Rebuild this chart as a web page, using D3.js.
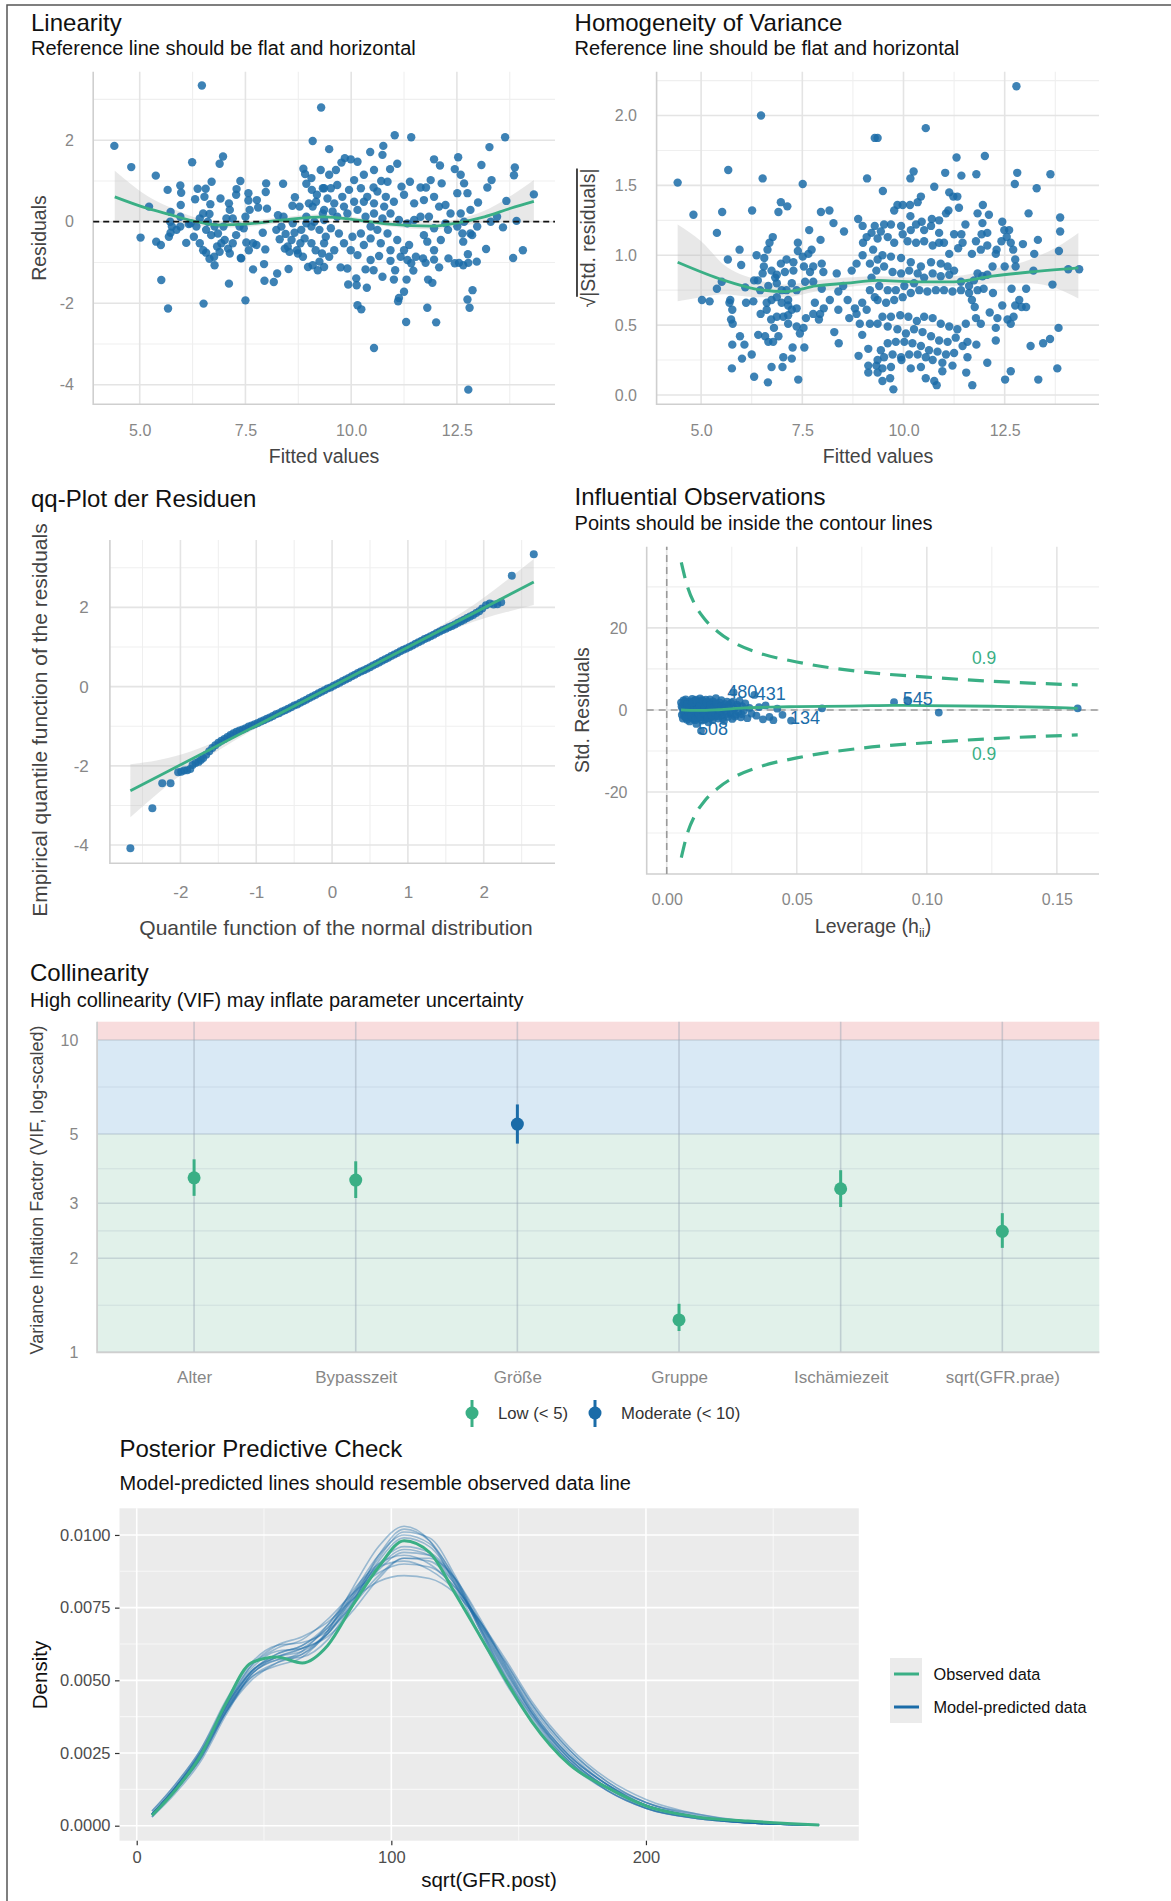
<!DOCTYPE html>
<html>
<head>
<meta charset="utf-8">
<script src="https://cdn.jsdelivr.net/npm/d3@7"></script>
<style>
  body { margin: 0; background: #fff; }
  svg { display: block; font-family: "Liberation Sans", Arial, Helvetica, sans-serif; }
</style>
</head>
<body>
<svg id="chart" width="1171" height="1901"></svg>
<script>
// ---------- data ----------

// Linearity: fitted value, residual
var linearityPoints = [
  [6.47,3.34],[4.40,1.86],[4.80,1.34],[5.38,1.13],[6.24,1.46],[6.97,1.60],[6.89,1.42],[5.02,-0.39],[5.39,-0.49],[5.50,-0.57],
  [5.51,-1.43],[5.67,-2.13],[6.51,-2.01],[7.11,-1.52],[7.50,-1.93],[7.95,-1.45],[8.17,-1.48],[8.25,-1.27],[8.52,-1.16],[7.68,-1.17],
  [7.94,-1.04],[7.39,-0.89],[6.77,-1.07],[6.65,-0.91],[5.22,0.37],[5.66,0.78],[5.96,0.89],[5.98,0.71],[5.97,0.41],[5.73,0.24],
  [6.31,0.55],[6.37,0.81],[6.56,0.81],[6.70,0.98],[6.53,0.61],[6.91,0.57],[6.67,0.43],[6.65,0.19],[7.11,0.45],[7.28,0.66],
  [7.29,0.80],[7.38,1.00],[7.57,0.70],[7.77,0.53],[7.99,0.94],[7.98,0.73],[8.01,0.32],[7.80,0.35],[7.57,0.52],[8.39,0.93],
  [8.67,0.60],[8.61,0.39],[8.27,0.16],[8.40,0.12],[8.87,1.30],[8.91,1.17],[9.06,1.07],[9.09,1.98],[9.29,2.80],[8.94,0.93],
  [9.07,0.78],[9.19,0.66],[9.28,1.27],[9.33,0.82],[5.76,-0.12],[5.73,-0.27],[5.69,-0.37],[6.10,-0.52],[5.96,-0.12],[6.16,-0.06],
  [6.28,-0.37],[6.42,-0.53],[6.50,-0.70],[6.57,-0.76],[6.76,-0.86],[6.83,-0.61],[6.89,-0.74],[6.93,-0.53],[7.01,-0.45],[7.09,-0.66],
  [7.13,-0.78],[7.20,-0.53],[7.28,-0.33],[7.36,-0.12],[7.40,-0.90],[7.46,-0.16],[7.52,-0.51],[7.58,-0.70],[7.68,-0.53],[7.76,-0.57],
  [7.91,-0.27],[7.97,-0.68],[8.31,-0.43],[8.45,-0.30],[8.50,-0.61],[8.59,-0.45],[8.66,-0.27],[8.72,-0.70],[8.80,-0.53],[8.90,-0.41],
  [8.98,-1.11],[9.09,-1.07],[9.21,-1.19],[9.31,-0.78],[9.36,-0.53],[9.25,-0.98],[6.57,-0.20],[6.69,-0.33],[6.77,-0.12],[6.85,-0.29],
  [6.98,-0.12],[7.05,0.08],[7.13,0.29],[7.20,0.08],[7.50,0.12],[7.60,0.29],[6.61,0.00],[6.34,-0.12],[6.42,0.08],[6.50,0.20],
  [6.20,-0.04],[5.96,0.12],[5.87,-0.20],[5.72,0.00],[8.23,-0.20],[8.35,-0.12],[8.62,-0.04],[8.82,-0.20],[8.94,0.12],[9.09,0.37],
  [9.17,0.49],[9.06,-0.12],[9.13,0.00],[9.25,-0.20],[9.33,0.20],[9.00,0.45],[8.78,0.37],[8.94,-0.04],[9.16,-0.70],[9.06,-0.53],
  [8.86,-0.86],[8.74,-0.78],[8.54,-0.74],[8.43,-0.66],
  [11.03,2.12],[11.42,2.07],[13.64,2.07],[13.27,1.83],[9.48,1.78],[10.45,1.71],[10.76,1.86],[10.74,1.64],[11.96,1.53],[12.10,1.38],
  [12.53,1.58],[12.45,1.29],[12.59,1.15],[13.08,1.39],[13.87,1.33],[13.85,1.14],[13.32,1.02],[13.22,0.84],[13.67,0.51],[14.32,0.67],
  [13.91,0.02],[13.59,-0.14],[13.83,-0.89],[14.06,-0.70],[13.19,-0.67],[12.97,-0.98],[12.76,-0.80],[12.65,-0.49],[12.86,-0.33],[13.00,0.47],
  [12.75,0.70],[12.67,0.94],[12.51,0.70],[12.14,0.94],[11.88,1.02],[11.77,0.84],[11.64,0.84],[11.39,0.98],[11.19,0.86],[11.09,1.42],
  [10.92,1.29],[10.86,0.98],[10.71,1.00],[10.54,1.27],[10.53,0.84],[10.30,1.15],[10.15,1.47],[9.99,1.53],[9.85,1.56],[9.77,1.45],
  [9.64,1.27],[9.48,1.15],[9.52,0.82],[9.67,0.90],[9.36,0.82],[9.44,0.57],[9.60,0.45],[9.79,0.61],[9.95,0.78],[10.07,1.02],
  [10.23,0.82],[10.38,0.61],[10.62,0.74],[10.82,0.61],[11.01,0.49],[11.25,0.66],[11.49,0.45],[11.72,0.53],[11.96,0.61],[12.08,0.37],
  [12.23,0.41],[12.35,0.20],[12.59,0.20],[12.82,0.29],[12.67,0.00],[12.23,-0.04],[11.96,-0.16],[11.72,-0.33],[11.80,-0.49],[11.96,-0.70],
  [12.12,-0.45],[12.29,-0.20],[12.51,-0.12],[12.63,-0.29],[12.82,-0.29],[12.98,-0.12],[13.30,0.00],[13.45,0.12],[11.70,-0.90],[11.76,-1.01],
  [11.96,-0.93],[12.08,-1.12],[12.30,-0.90],[12.45,-1.02],[12.55,-1.01],[12.65,-1.07],[12.77,-1.01],[11.82,-1.42],[11.92,-1.50],[11.31,-1.42],
  [11.25,-1.72],[11.13,-1.87],[11.11,-1.95],[11.30,-2.46],[11.80,-2.11],[12.01,-2.47],[12.75,-1.91],[12.87,-1.68],[12.80,-2.11],[12.77,-4.12],
  [10.54,-3.10],[10.15,-2.05],[10.24,-2.15],[9.93,-1.54],[10.12,-1.39],[10.13,-1.56],[10.37,-1.62],[10.53,-1.19],[10.74,-1.35],[11.01,-1.42],
  [11.04,-1.19],[11.47,-1.20],[11.42,-1.02],[10.93,-0.96],[10.66,-0.84],[10.46,-0.94],[10.34,-1.17],[9.75,-1.12],[9.91,-1.15],[9.36,-1.11],
  [9.48,-0.86],[9.60,-0.70],[9.83,-0.53],[9.99,-0.70],[10.15,-0.82],[10.30,-0.57],[10.46,-0.41],[10.70,-0.53],[10.86,-0.29],[11.09,-0.45],
  [11.25,-0.70],[11.37,-0.57],[11.53,-0.86],[11.33,-0.94],[11.17,-0.86],[10.93,-0.70],[10.62,-0.20],[10.46,-0.12],[10.23,-0.29],[10.03,-0.37],
  [9.71,-0.29],[9.52,-0.16],[9.40,-0.37],[9.36,0.04],[9.67,0.12],[9.91,0.20],[10.15,0.29],[10.34,0.12],[10.54,0.20],[10.74,0.08],
  [10.93,0.20],[11.13,0.04],[11.33,-0.04],[11.49,0.04],[11.64,0.12],[11.84,0.12],[10.78,0.37],[10.54,0.45],[10.30,0.49],[10.07,0.49],
  [9.83,0.37],[9.56,0.25],[9.36,0.29]
];
var linearitySmooth = [[4.41,0.61],[5.2,0.32],[5.7,0.18],[6.26,0.02],[6.9,-0.08],[7.5,-0.06],[8.3,0.03],[9.35,0.12],[10.15,0.04],
  [10.9,-0.06],[11.9,-0.11],[12.5,-0.03],[13.15,0.12],[13.77,0.33],[14.32,0.5]];
var linearityBand = [[4.41,-0.02,1.25],[5.2,0.02,0.62],[5.7,0.0,0.36],[6.26,-0.08,0.12],[6.9,-0.15,-0.01],[7.5,-0.13,0.01],
  [8.3,-0.04,0.10],[9.35,0.06,0.18],[10.15,-0.02,0.10],[10.9,-0.12,0.0],[11.9,-0.19,-0.03],[12.5,-0.12,0.06],[13.15,-0.02,0.27],
  [13.77,0.02,0.63],[14.32,0.0,1.02]];

// Homogeneity of variance: fitted value, sqrt(|std. residual|)
var homogeneityPoints = [
  [6.48,2.00],[9.29,1.84],[4.42,1.52],[5.67,1.61],[6.52,1.55],[7.51,1.51],[9.10,1.55],[4.81,1.29],[5.52,1.31],[6.26,1.32],
  [6.91,1.31],[6.97,1.38],[7.13,1.35],[7.96,1.31],[8.17,1.32],[8.27,1.23],[8.53,1.17],[7.67,1.18],[7.39,1.09],[7.39,1.03],
  [6.77,1.13],[6.69,1.09],[6.64,1.04],[5.95,1.04],[5.39,1.16],[5.66,0.97],[5.99,0.93],[6.37,1.00],[6.56,0.98],[6.55,0.92],
  [6.52,0.87],[6.40,0.82],[6.31,0.82],[6.09,0.77],[5.39,0.76],[5.02,0.68],[5.21,0.67],[5.70,0.66],[5.77,0.61],[5.74,0.54],
  [5.78,0.51],[5.96,0.42],[5.77,0.36],[6.07,0.36],[6.01,0.26],[5.76,0.19],[6.25,0.29],[6.31,0.13],[6.65,0.09],[6.74,0.20],
  [7.01,0.20],[7.24,0.26],[7.03,0.27],[7.26,0.34],[7.40,0.11],[7.55,0.34],[7.53,0.48],[7.36,0.49],[7.15,0.51],[6.80,0.48],
  [6.91,0.42],[6.78,0.38],[6.66,0.38],[6.58,0.42],[6.41,0.43],[6.47,0.58],[6.62,0.61],[6.62,0.66],[6.74,0.68],[6.87,0.70],
  [6.99,0.66],[7.15,0.64],[7.24,0.61],[7.36,0.62],[7.15,0.57],[7.03,0.56],[6.87,0.56],[6.73,0.54],[6.29,0.67],[6.46,0.75],
  [6.66,0.78],[6.87,0.80],[6.83,0.84],[7.07,0.88],[7.28,0.89],[7.24,0.80],[7.36,0.75],[7.54,0.92],[7.69,0.88],[7.77,0.81],
  [7.57,0.81],[7.81,0.66],[7.94,0.58],[7.91,0.54],[8.03,0.62],[8.29,0.45],[8.40,0.37],[8.89,0.28],[9.13,0.33],[9.13,0.21],
  [9.13,0.16],[9.33,0.21],[8.98,0.43],[8.92,0.51],[8.84,0.58],[8.80,0.62],[8.66,0.55],[8.62,0.68],[8.39,0.74],[8.51,0.78],
  [8.72,0.89],[8.84,0.94],[8.99,1.00],[9.00,1.09],[9.09,1.13],[9.21,1.16],[8.88,1.26],[8.99,1.21],[9.29,1.21],[9.25,1.04],
  [9.17,0.94],[9.33,0.89],[9.21,0.84],[9.17,0.75],[9.29,0.70],[8.98,0.66],[9.09,0.61],[9.17,0.51],[8.39,0.61],[8.18,0.68],
  [8.35,0.87],[8.02,0.88],[7.98,0.94],[7.95,1.11],[7.73,1.04],[7.65,1.01],[7.77,0.92],[7.98,0.76],[7.77,0.58],[7.59,0.55],
  [7.44,0.44],[7.11,0.75],[7.15,0.68],[6.99,0.75],[6.97,0.94],[7.11,0.97],[7.28,0.95],[7.51,0.99],[6.74,0.89],[6.87,0.86],
  [5.72,0.68],[6.11,0.66],[5.51,0.81],
  [12.79,2.21],[10.55,1.91],[9.36,1.84],[11.31,1.70],[12.01,1.71],[10.17,1.55],[10.25,1.60],[11.03,1.59],[11.43,1.57],[11.80,1.58],
  [12.81,1.59],[13.63,1.58],[12.75,1.51],[13.29,1.48],[9.49,1.46],[10.76,1.49],[11.13,1.45],[11.23,1.42],[11.33,1.42],[10.43,1.42],
  [10.35,1.38],[9.85,1.36],[9.98,1.36],[10.16,1.36],[9.77,1.32],[10.17,1.28],[10.45,1.24],[10.70,1.26],[10.88,1.25],[11.05,1.30],
  [11.11,1.32],[11.37,1.34],[11.96,1.36],[11.83,1.30],[12.11,1.29],[11.53,1.22],[11.25,1.15],[11.43,1.15],[11.46,1.09],[11.35,1.05],
  [11.13,1.01],[11.00,1.09],[10.88,1.16],[10.68,1.21],[10.51,1.18],[10.31,1.22],[10.18,1.18],[9.94,1.21],[9.69,1.22],[9.52,1.22],
  [9.44,1.17],[9.36,1.12],[9.61,1.13],[9.77,1.09],[9.98,1.15],[10.10,1.10],[10.31,1.09],[10.51,1.10],[10.72,1.07],[10.88,1.09],
  [12.44,1.24],[12.49,1.18],[12.61,1.18],[12.55,1.13],[12.42,1.10],[12.65,1.09],[12.71,1.04],[12.95,1.08],[13.32,1.11],[13.87,1.27],
  [13.87,1.17],[13.23,1.01],[13.84,1.03],[12.76,0.97],[12.77,0.92],[12.50,0.92],[12.30,1.04],[12.07,1.07],[11.91,1.04],[11.79,1.10],
  [11.69,1.01],[11.93,1.15],[12.07,1.16],[11.95,1.23],[12.28,1.01],[12.20,0.92],[12.07,0.86],[11.95,0.85],[11.83,0.87],[11.74,0.82],
  [11.62,0.78],[11.42,0.81],[11.25,0.89],[11.09,0.92],[10.92,0.94],[10.68,0.95],[10.43,0.92],[10.18,0.95],[9.94,0.98],[9.69,0.99],
  [9.48,1.00],[9.36,0.97],[9.52,0.92],[9.73,0.88],[9.94,0.87],[10.14,0.89],[10.35,0.87],[10.51,0.84],[10.72,0.87],[10.92,0.85],
  [11.13,0.86],[10.26,0.80],[10.02,0.78],[9.81,0.75],[9.61,0.75],[9.40,0.78],[9.36,0.68],[9.57,0.66],[9.77,0.68],[9.98,0.70],
  [10.18,0.73],[10.39,0.75],[10.59,0.74],[10.80,0.75],[11.00,0.75],[11.21,0.74],[11.42,0.75],[11.62,0.73],[11.83,0.75],[11.98,0.76],
  [12.21,0.73],[12.67,0.76],[13.03,0.76],[13.68,0.79],[14.07,0.90],[14.34,0.90],[13.21,0.89],[11.69,0.68],[11.76,0.63],[11.79,0.55],
  [11.91,0.51],[12.13,0.59],[12.28,0.48],[12.32,0.55],[12.44,0.64],[12.57,0.54],[12.65,0.51],[12.72,0.56],[12.76,0.64],[12.86,0.68],
  [12.92,0.63],[13.03,0.63],[13.83,0.48],[13.62,0.40],[13.45,0.37],[13.14,0.35],[13.80,0.19],[13.33,0.11],[12.65,0.17],[12.51,0.11],
  [12.28,0.39],[12.07,0.23],[11.80,0.36],[11.58,0.38],[11.58,0.27],[11.55,0.16],[11.70,0.07],[11.54,0.51],[11.33,0.47],[11.13,0.49],
  [10.92,0.51],[10.72,0.55],[10.51,0.56],[10.33,0.53],[10.12,0.56],[9.92,0.57],[9.69,0.56],[9.48,0.56],[9.36,0.51],[9.61,0.49],
  [9.85,0.47],[10.06,0.44],[10.26,0.47],[10.47,0.45],[10.68,0.42],[10.88,0.39],[11.09,0.38],[11.29,0.41],[11.46,0.35],[11.25,0.30],
  [11.05,0.29],[10.84,0.31],[10.63,0.32],[10.43,0.35],[10.22,0.37],[10.02,0.38],[9.81,0.38],[9.61,0.37],[9.44,0.32],[9.36,0.25],
  [9.52,0.27],[9.73,0.29],[9.94,0.27],[10.14,0.29],[10.35,0.29],[10.55,0.27],[10.72,0.25],[10.96,0.23],[11.21,0.21],[10.96,0.17],
  [10.76,0.10],[10.55,0.12],[10.82,0.07],[10.43,0.20],[10.18,0.19],[9.95,0.25],[9.69,0.20],[9.48,0.19],[9.36,0.16],[9.67,0.12],
  [9.48,0.10],[9.75,0.04],[13.09,1.30]
];
var homogeneitySmooth = [[4.42,0.95],[5.57,0.82],[6.32,0.76],[7.08,0.74],[7.84,0.78],[8.59,0.80],[9.35,0.82],[10.3,0.81],
  [11.24,0.81],[12.19,0.85],[13.13,0.88],[14.32,0.91]];
var homogeneityBand = [[4.42,0.67,1.22],[5.0,0.70,1.10],[5.57,0.72,0.93],[6.32,0.70,0.83],[7.08,0.70,0.79],[7.84,0.74,0.82],
  [8.59,0.77,0.84],[9.35,0.79,0.85],[10.3,0.78,0.84],[11.24,0.78,0.85],[12.19,0.80,0.90],[13.13,0.80,0.97],[13.8,0.76,1.06],[14.32,0.69,1.16]];

// qq plot: theoretical quantile, sample quantile
var qqPoints = [
  [-2.66,-4.08],[-2.37,-3.07],[-2.24,-2.44],[-2.13,-2.44],[-2.03,-2.16],[-1.99,-2.15],[-1.95,-2.12],[-1.91,-2.11],[-1.87,-2.08],
  [-1.84,-1.98],[-1.80,-1.93],[-1.76,-1.90],[-1.73,-1.85],
  [-1.70,-1.80],[-1.66,-1.72],[-1.62,-1.63],[-1.58,-1.55],[-1.54,-1.48],[-1.50,-1.42],[-1.46,-1.37],[-1.42,-1.32],[-1.38,-1.27],
  [-1.34,-1.22],[-1.30,-1.18],[-1.26,-1.14],[-1.22,-1.11],[-1.18,-1.08],[-1.14,-1.05],[-1.10,-1.01],[-1.06,-0.98],[-1.02,-0.95],
  [-0.98,-0.92],[-0.94,-0.88],[-0.90,-0.85],[-0.86,-0.81],[-0.82,-0.78],[-0.78,-0.74],[-0.74,-0.70],[-0.70,-0.67],[-0.66,-0.63],
  [-0.62,-0.60],[-0.58,-0.56],[-0.54,-0.52],[-0.50,-0.48],[-0.46,-0.45],[-0.42,-0.41],[-0.38,-0.37],[-0.34,-0.33],[-0.30,-0.29],
  [-0.26,-0.25],[-0.22,-0.21],[-0.18,-0.17],[-0.14,-0.13],[-0.10,-0.09],[-0.06,-0.05],[-0.02,-0.02],[0.02,0.02],[0.06,0.06],
  [0.10,0.10],[0.14,0.14],[0.18,0.18],[0.22,0.22],[0.26,0.26],[0.30,0.30],[0.34,0.34],[0.38,0.38],[0.42,0.41],[0.46,0.45],
  [0.50,0.49],[0.54,0.53],[0.58,0.57],[0.62,0.61],[0.66,0.65],[0.70,0.69],[0.74,0.73],[0.78,0.77],[0.82,0.81],[0.86,0.85],
  [0.90,0.89],[0.94,0.93],[0.98,0.96],[1.02,1.00],[1.06,1.04],[1.10,1.08],[1.14,1.12],[1.18,1.16],[1.22,1.20],[1.26,1.23],
  [1.30,1.27],[1.34,1.31],[1.38,1.35],[1.42,1.39],[1.46,1.43],[1.50,1.46],[1.54,1.50],[1.58,1.53],[1.62,1.57],[1.66,1.61],
  [1.70,1.65],[1.74,1.69],[1.78,1.73],[1.82,1.77],[1.86,1.81],[1.90,1.86],[1.94,1.90],[1.98,1.97],
  [2.03,2.05],[2.08,2.10],[2.13,2.07],[2.18,2.08],[2.23,2.13],[2.37,2.80],[2.66,3.34]
];
var qqLine = [[-2.66,-2.63],[2.66,2.64]];
var qqBandX  = [-2.66,-2.3,-2.0,-1.5,-1.0,-0.5,0,0.5,1.0,1.5,2.0,2.3,2.66];
var qqBandLo = [-3.30,-2.70,-2.24,-1.61,-1.05,-0.54,-0.03,0.45,0.93,1.37,1.72,1.88,2.06];
var qqBandHi = [-1.96,-1.86,-1.72,-1.37,-0.93,-0.46,0.03,0.53,1.05,1.61,2.24,2.68,3.22];

// Influential observations: leverage, std. residual
var leveragePoints = [
  [0.0055,1.8],[0.0058,-1.2],[0.006,0.5],[0.0062,-2.1],[0.0064,2.3],[0.0066,-0.4],[0.0068,1.1],[0.007,-1.6],[0.0071,0.2],[0.0073,2.6],
  [0.0075,-0.9],[0.0076,1.5],[0.0078,-2.4],[0.008,0.8],[0.0081,-0.2],[0.0083,1.9],[0.0085,-1.3],[0.0086,0.4],[0.0088,-2.8],[0.009,2.1],
  [0.0091,-0.6],[0.0093,1.2],[0.0095,-1.8],[0.0096,0.0],[0.0098,2.7],[0.01,-1.0],[0.0102,0.9],[0.0103,-2.2],[0.0105,1.6],[0.0107,-0.3],
  [0.0108,2.3],[0.011,-1.5],[0.0112,0.6],[0.0114,-3.4],[0.0115,1.3],[0.0117,-0.8],[0.0119,2.0],[0.012,-2.0],[0.0122,0.3],[0.0124,1.7],
  [0.0126,-1.2],[0.0128,2.8],[0.013,-0.5],[0.0132,-5.1],[0.0133,1.0],[0.0135,-2.6],[0.0137,0.1],[0.0139,2.2],[0.014,-1.7],[0.0142,0.7],
  [0.0144,-0.9],[0.0146,1.5],[0.0148,-2.3],[0.015,2.5],[0.0152,-0.2],[0.0154,1.1],[0.0156,-1.4],[0.0158,0.4],[0.016,-3.0],[0.0162,1.9],
  [0.0164,-0.7],[0.0166,2.6],[0.0168,-1.9],[0.017,0.9],[0.0172,-0.1],[0.0174,1.4],[0.0176,-2.5],[0.0178,2.1],[0.018,-1.1],[0.0183,0.5],
  [0.0186,-1.6],[0.0189,2.9],[0.0192,-0.4],[0.0195,1.2],[0.0198,-2.1],[0.0201,0.2],[0.0204,1.8],[0.0207,-0.8],[0.021,2.4],[0.0213,-1.3],
  [0.0216,0.8],[0.022,-2.7],[0.0224,1.5],[0.0228,-0.3],[0.0232,2.0],[0.0236,-1.7],[0.024,0.6],[0.0244,-0.9],[0.0248,1.7],[0.0252,-2.2],
  [0.0257,4.3],[0.026,0.3],[0.0265,-1.2],[0.027,1.3],[0.0275,-0.5],[0.028,2.2],[0.0285,-1.8],[0.029,0.9],[0.0296,-0.2],[0.0302,1.6],
  [0.031,-2.0],[0.0318,0.5],[0.0326,-0.9],[0.0337,3.66],[0.0345,-1.4],[0.0355,0.7],[0.037,-2.3],[0.038,1.1],[0.0395,-1.7],[0.041,-2.5],
  [0.0425,0.3],[0.0445,-1.2],[0.0478,-2.6],[0.0597,0.4],[0.0874,1.9],[0.0925,2.4],[0.1046,-0.65],[0.158,0.4],
  [0.0057,0.9],[0.0063,-0.7],[0.0069,2.0],[0.0074,-1.9],[0.0079,1.4],[0.0084,-0.5],[0.0089,0.7],[0.0094,-1.5],[0.0099,1.8],[0.0104,-0.2],
  [0.0109,-2.5],[0.0113,2.5],[0.0118,0.1],[0.0123,-1.0],[0.0127,1.0],[0.0131,-1.9],[0.0136,2.4],[0.0141,-0.3],[0.0145,0.5],[0.0149,-1.1],
  [0.0153,1.8],[0.0157,-2.0],[0.0163,0.0],[0.0167,1.2],[0.0173,-1.3],[0.0179,0.6],[0.0185,-0.6],[0.0191,1.6],[0.0197,-1.5],[0.0203,-0.1],
  [0.0209,1.0],[0.0215,-2.0],[0.0223,0.4],[0.0231,-1.0],[0.0239,1.2],[0.0247,-0.4],[0.0255,2.0],[0.0263,-1.6],[0.0273,0.8],[0.0288,-1.0]
];
var leverageSmooth = [[0.0055,0.0],[0.01,-0.1],[0.015,-0.1],[0.02,0.05],[0.03,0.5],[0.04,0.7],[0.05,0.8],[0.06,0.85],[0.075,1.0],
  [0.087,1.1],[0.1,1.05],[0.125,0.9],[0.145,0.65],[0.158,0.4]];
var leverageLabels = [["480",0.0290,4.46],["431",0.0400,4.07],["545",0.0965,2.85],["134",0.0532,-2.0],["508",0.0178,-4.47]];
var cookH     = [0.0056,0.008,0.011,0.0144,0.02,0.0262,0.035,0.05,0.075,0.1,0.125,0.158];
var cookUpper = [36.0,30.0,25.5,22.3,18.9,16.3,14.0,11.7,9.3,8.0,7.0,6.1];
var cookLower = [-36.0,-30.0,-25.5,-22.3,-18.9,-16.3,-14.0,-11.7,-9.3,-8.0,-7.0,-6.1];
var cookLabels = [["0.9",0.122,12.6],["0.9",0.122,-10.6]];

// Collinearity
var vifTerms = ["Alter","Bypasszeit","Größe","Gruppe","Ischämiezeit","sqrt(GFR.prae)"];
var vifValue = [3.62,3.56,5.38,1.27,3.34,2.44];
var vifLow   = [3.17,3.12,4.66,1.17,2.92,2.16];
var vifHigh  = [4.15,4.09,6.22,1.43,3.83,2.79];
var vifGroup = ["Low","Low","Moderate","Low","Low","Low"];
var vifGroupLabels = ["Low (< 5)","Moderate (< 10)"];

// Posterior predictive check
var densityX = [6,15,25,35,45,55,65,75,85,95,105,115,125,135,145,155,170,185,200,220,240,268];
var observedDensity = [0.00035,0.0012,0.0024,0.0042,0.0056,0.0058,0.0056,0.0062,0.0076,0.0089,0.0098,0.0094,0.0080,0.0065,0.0050,0.0036,0.0021,0.0013,0.00068,0.0003,0.00016,0.00002];
var predictedDensity = [
  [0.0004,0.0013,0.0025,0.0041,0.0053,0.0059,0.0062,0.0068,0.0078,0.0088,0.0094,0.0093,0.0084,0.0069,0.0053,0.0039,0.0023,0.0013,0.0006,0.00025,0.0001,0.00002],
  [0.0004,0.0012,0.0023,0.0039,0.0052,0.0057,0.0059,0.0066,0.0079,0.0092,0.0101,0.0099,0.0086,0.0068,0.0051,0.0037,0.0022,0.0012,0.0006,0.00025,0.0001,0.00002],
  [0.0005,0.0014,0.0026,0.0042,0.0055,0.0061,0.0064,0.0071,0.0080,0.0087,0.0090,0.0089,0.0082,0.0070,0.0055,0.0041,0.0025,0.0014,0.0007,0.0003,0.0001,0.00002],
  [0.0004,0.0012,0.0024,0.0040,0.0051,0.0055,0.0058,0.0067,0.0082,0.0096,0.0103,0.0098,0.0083,0.0065,0.0049,0.0036,0.0022,0.0013,0.0007,0.0003,0.00012,0.00002],
  [0.0004,0.0013,0.0024,0.0039,0.0050,0.0056,0.0060,0.0069,0.0081,0.0090,0.0093,0.0090,0.0082,0.0070,0.0056,0.0042,0.0026,0.0015,0.0008,0.0003,0.0001,0.00002],
  [0.0003,0.0011,0.0022,0.0038,0.0052,0.0058,0.0061,0.0065,0.0074,0.0085,0.0092,0.0092,0.0085,0.0071,0.0055,0.0040,0.0024,0.0014,0.0008,0.00035,0.00012,0.00002],
  [0.0004,0.0013,0.0025,0.0041,0.0054,0.0060,0.0061,0.0066,0.0077,0.0091,0.0099,0.0096,0.0084,0.0067,0.0051,0.0038,0.0023,0.0013,0.0007,0.0003,0.0001,0.00002],
  [0.0004,0.0012,0.0024,0.0041,0.0055,0.0062,0.0065,0.0070,0.0078,0.0084,0.0086,0.0085,0.0080,0.0070,0.0057,0.0043,0.0027,0.0016,0.0009,0.0004,0.00015,0.00003],
  [0.0003,0.0012,0.0023,0.0039,0.0052,0.0057,0.0058,0.0064,0.0077,0.0093,0.0102,0.0098,0.0085,0.0067,0.0050,0.0036,0.0021,0.0012,0.0006,0.00025,0.0001,0.00002],
  [0.0004,0.0013,0.0025,0.0040,0.0053,0.0059,0.0062,0.0069,0.0080,0.0089,0.0091,0.0088,0.0081,0.0069,0.0056,0.0042,0.0026,0.0015,0.0008,0.0004,0.00015,0.00003],
  [0.0004,0.0013,0.0024,0.0040,0.0053,0.0058,0.0060,0.0066,0.0078,0.0090,0.0096,0.0094,0.0085,0.0070,0.0054,0.0039,0.0023,0.0013,0.0007,0.0003,0.0001,0.00002],
  [0.0005,0.0014,0.0026,0.0043,0.0056,0.0062,0.0063,0.0067,0.0076,0.0086,0.0092,0.0091,0.0083,0.0069,0.0054,0.0040,0.0024,0.0014,0.0007,0.0003,0.0001,0.00002],
  [0.0004,0.0012,0.0023,0.0039,0.0051,0.0056,0.0059,0.0067,0.0080,0.0093,0.0100,0.0097,0.0085,0.0068,0.0052,0.0038,0.0022,0.0012,0.0006,0.00025,0.0001,0.00002],
  [0.0004,0.0013,0.0025,0.0041,0.0053,0.0058,0.0061,0.0068,0.0079,0.0089,0.0095,0.0093,0.0083,0.0068,0.0053,0.0039,0.0024,0.0014,0.0007,0.0003,0.00012,0.00002]
];
var ppcLegend = ["Observed data","Model-predicted data"];

// ---------- drawing ----------
var svg = d3.select("#chart");
var green = "#3aaf85", blue = "#1b6ca8";
var tickGray = "#878787", titleGray = "#444";

// plain hyphen for negative tick labels, as in the original
function fmt(spec) {
  var f = d3.format(spec);
  return function (d) { return f(d).replace("\u2212", "-"); };
}

// outer frame
svg.append("path").attr("d", "M7,1901V5H1171").attr("fill", "none").attr("stroke", "#555").attr("stroke-width", 1.5);

function text(g, x, y, s, o) {
  o = o || {};
  var t = g.append("text").attr("x", x).attr("y", y).text(s)
    .attr("fill", o.fill || "#111").style("font-size", (o.size || 16) + "px")
    .attr("text-anchor", o.anchor || "start");
  if (o.rotate) t.attr("transform", "rotate(-90," + x + "," + y + ")");
  if (o.dy) t.attr("dy", o.dy);
  return t;
}

function titles(x, y1, t1, y2, t2) {
  text(svg, x, y1, t1, { size: 24, fill: "#111" });
  if (t2) text(svg, x, y2, t2, { size: 20, fill: "#111" });
}

// ggplot-like minimal grid with axis lines
function grid(g, x, y, o) {
  var x0 = x.range()[0], x1 = x.range()[1], yb = y.range()[0], yt = y.range()[1];
  var gg = g.append("g");
  function vl(vals, col, w) {
    gg.selectAll(null).data(vals).enter().append("line")
      .attr("x1", function (d) { return x(d); }).attr("x2", function (d) { return x(d); })
      .attr("y1", yb).attr("y2", yt).attr("stroke", col).attr("stroke-width", w);
  }
  function hl(vals, col, w) {
    gg.selectAll(null).data(vals).enter().append("line")
      .attr("y1", function (d) { return y(d); }).attr("y2", function (d) { return y(d); })
      .attr("x1", x0).attr("x2", x1).attr("stroke", col).attr("stroke-width", w);
  }
  vl(o.xMinor || [], o.minor || "#efefef", 1.1);
  hl(o.yMinor || [], o.minor || "#efefef", 1.1);
  vl(o.xMajor || [], o.major || "#e4e4e4", 1.6);
  hl(o.yMajor || [], o.major || "#e4e4e4", 1.6);
  if (o.axisLines !== false) {
    gg.append("path").attr("d", "M" + x0 + "," + yt + "V" + yb + "H" + x1)
      .attr("fill", "none").attr("stroke", "#cfcfcf").attr("stroke-width", 1.6);
  }
}

function axes(g, x, y, o) {
  var ax = g.append("g").attr("transform", "translate(0," + y.range()[0] + ")")
    .call(d3.axisBottom(x).tickValues(o.xTicks).tickFormat(o.xFmt).tickSize(o.tick || 0).tickPadding(o.xPad));
  var ay = g.append("g").attr("transform", "translate(" + x.range()[0] + ",0)")
    .call(d3.axisLeft(y).tickValues(o.yTicks).tickFormat(o.yFmt).tickSize(o.tick || 0).tickPadding(o.yPad));
  [ax, ay].forEach(function (a, i) {
    a.select(".domain").remove();
    a.attr("font-family", null).attr("font-size", null);
    a.selectAll("text").attr("fill", o.color || tickGray).style("font-size", ((i === 0 ? o.xSize : o.ySize) || o.size || 16) + "px");
    a.selectAll("line").attr("stroke", o.tickColor || "none").attr("stroke-width", 1.2);
  });
}

function dots(g, x, y, data, r) {
  g.append("g").selectAll("circle").data(data).enter().append("circle")
    .attr("cx", function (d) { return x(d[0]); }).attr("cy", function (d) { return y(d[1]); })
    .attr("r", r).attr("fill", blue).attr("fill-opacity", 0.85);
}

function band(g, x, y, data) {
  g.append("path").datum(data)
    .attr("d", d3.area().curve(d3.curveMonotoneX)
      .x(function (d) { return x(d[0]); }).y0(function (d) { return y(d[1]); }).y1(function (d) { return y(d[2]); }))
    .attr("fill", "#bdbdbd").attr("fill-opacity", 0.35);
}

function smooth(g, x, y, data, w) {
  g.append("path").datum(data)
    .attr("d", d3.line().curve(d3.curveMonotoneX).x(function (d) { return x(d[0]); }).y(function (d) { return y(d[1]); }))
    .attr("fill", "none").attr("stroke", green).attr("stroke-width", w || 2.8);
}

// ---- 1. Linearity ----
(function () {
  var g = svg.append("g");
  var x = d3.scaleLinear().domain([3.9, 14.82]).range([93.2, 555]);
  var y = d3.scaleLinear().domain([-4.48, 3.68]).range([404.3, 71.7]);
  titles(31, 31, "Linearity", 55, "Reference line should be flat and horizontal");
  grid(g, x, y, { xMajor: [5, 7.5, 10, 12.5], xMinor: [6.25, 8.75, 11.25, 13.75], yMajor: [-4, -2, 0, 2], yMinor: [-3, -1, 1, 3] });
  band(g, x, y, linearityBand);
  dots(g, x, y, linearityPoints, 4.2);
  smooth(g, x, y, linearitySmooth);
  g.append("line").attr("x1", x.range()[0]).attr("x2", x.range()[1]).attr("y1", y(0)).attr("y2", y(0))
    .attr("stroke", "#111").attr("stroke-width", 1.8).attr("stroke-dasharray", "6,4");
  axes(g, x, y, { xTicks: [5, 7.5, 10, 12.5], xFmt: fmt(".1f"), xPad: 20.3, yTicks: [-4, -2, 0, 2], yFmt: fmt("d"), yPad: 19.2, size: 16 });
  text(g, 324, 463, "Fitted values", { size: 19.5, fill: titleGray, anchor: "middle" });
  text(g, 46, 238, "Residuals", { size: 19.5, fill: titleGray, anchor: "middle", rotate: true });
})();

// ---- 2. Homogeneity of variance ----
(function () {
  var g = svg.append("g");
  var x = d3.scaleLinear().domain([3.9, 14.83]).range([656.6, 1099]);
  var y = d3.scaleLinear().domain([-0.067, 2.314]).range([404.3, 71.7]);
  titles(574.6, 31, "Homogeneity of Variance", 55, "Reference line should be flat and horizontal");
  grid(g, x, y, { xMajor: [5, 7.5, 10, 12.5], xMinor: [6.25, 8.75, 11.25, 13.75], yMajor: [0, 0.5, 1, 1.5, 2], yMinor: [0.25, 0.75, 1.25, 1.75, 2.25] });
  band(g, x, y, homogeneityBand);
  dots(g, x, y, homogeneityPoints, 4.2);
  smooth(g, x, y, homogeneitySmooth);
  axes(g, x, y, { xTicks: [5, 7.5, 10, 12.5], xFmt: fmt(".1f"), xPad: 20.3, yTicks: [0, 0.5, 1, 1.5, 2], yFmt: fmt(".1f"), yPad: 19.6, size: 16 });
  text(g, 878, 463, "Fitted values", { size: 19.5, fill: titleGray, anchor: "middle" });
  var t = text(g, 595, 238, "", { size: 19.5, fill: titleGray, anchor: "middle", rotate: true });
  t.append("tspan").text("√");
  t.append("tspan").text("|Std. residuals|").style("text-decoration", "overline");
})();

// ---- 3. qq plot ----
(function () {
  var g = svg.append("g");
  var x = d3.scaleLinear().domain([-2.93, 2.94]).range([109.9, 555]);
  var y = d3.scaleLinear().domain([-4.46, 3.70]).range([863.3, 540]);
  titles(31, 507, "qq-Plot der Residuen");
  grid(g, x, y, { xMajor: [-2, -1, 0, 1, 2], xMinor: [-2.5, -1.5, -0.5, 0.5, 1.5, 2.5], yMajor: [-4, -2, 0, 2], yMinor: [-3, -1, 1, 3] });
  var bandData = qqBandX.map(function (v, i) { return [v, qqBandLo[i], qqBandHi[i]]; });
  band(g, x, y, bandData);
  dots(g, x, y, qqPoints, 4);
  smooth(g, x, y, qqLine);
  axes(g, x, y, { xTicks: [-2, -1, 0, 1, 2], xFmt: fmt("d"), xPad: 22.5, yTicks: [-4, -2, 0, 2], yFmt: fmt("d"), yPad: 21.1, size: 17 });
  text(g, 336, 935, "Quantile function of the normal distribution", { size: 21, fill: titleGray, anchor: "middle" });
  text(g, 47, 720, "Empirical quantile function of the residuals", { size: 21, fill: titleGray, anchor: "middle", rotate: true });
})();

// ---- 4. Influential observations ----
(function () {
  var g = svg.append("g");
  var x = d3.scaleLinear().domain([-0.0077, 0.1662]).range([646.7, 1099]);
  var y = d3.scaleLinear().domain([-40, 39.8]).range([874, 546.7]);
  titles(574.6, 505, "Influential Observations", 530, "Points should be inside the contour lines");
  grid(g, x, y, { xMajor: [0, 0.05, 0.1, 0.15], xMinor: [0.025, 0.075, 0.125], yMajor: [-20, 0, 20], yMinor: [-30, -10, 10, 30] });
  g.append("line").attr("x1", x(0)).attr("x2", x(0)).attr("y1", y.range()[0]).attr("y2", y.range()[1])
    .attr("stroke", "#9a9a9a").attr("stroke-width", 1.6).attr("stroke-dasharray", "7,5");
  g.append("line").attr("x1", x.range()[0]).attr("x2", x.range()[1]).attr("y1", y(0)).attr("y2", y(0))
    .attr("stroke", "#9a9a9a").attr("stroke-width", 1.6).attr("stroke-dasharray", "7,5");
  var cl = d3.line().curve(d3.curveMonotoneX).x(function (d) { return x(d[0]); }).y(function (d) { return y(d[1]); });
  [cookUpper, cookLower].forEach(function (arr) {
    g.append("path").datum(cookH.map(function (h, i) { return [h, arr[i]]; })).attr("d", cl)
      .attr("fill", "none").attr("stroke", green).attr("stroke-width", 3.2).attr("stroke-dasharray", "16,10");
  });
  g.selectAll(null).data(cookLabels).enter().append("text")
    .attr("x", function (d) { return x(d[1]); }).attr("y", function (d) { return y(d[2]); }).attr("dy", "0.35em")
    .attr("text-anchor", "middle").attr("fill", green).style("font-size", "17.5px").text(function (d) { return d[0]; });
  dots(g, x, y, leveragePoints, 3.9);
  smooth(g, x, y, leverageSmooth);
  g.selectAll(null).data(leverageLabels).enter().append("text")
    .attr("x", function (d) { return x(d[1]); }).attr("y", function (d) { return y(d[2]); }).attr("dy", "0.35em")
    .attr("text-anchor", "middle").attr("fill", blue).style("font-size", "18px").text(function (d) { return d[0]; });
  axes(g, x, y, { xTicks: [0, 0.05, 0.1, 0.15], xFmt: fmt(".2f"), xPad: 19.6, yTicks: [-20, 0, 20], yFmt: fmt("d"), yPad: 19.2, size: 16 });
  var t = text(g, 873, 933, "Leverage (h", { size: 19.5, fill: titleGray, anchor: "middle" });
  t.append("tspan").text("ii").style("font-size", "13px").attr("dy", 4);
  t.append("tspan").text(")").attr("dy", -4);
  text(g, 589, 710, "Std. Residuals", { size: 19.5, fill: titleGray, anchor: "middle", rotate: true });
})();

// ---- 5. Collinearity ----
(function () {
  var g = svg.append("g");
  var x = d3.scalePoint().domain(vifTerms).range([97.1, 1099.3]).padding(0.6);
  var y = d3.scaleLog().domain([1, 11.45]).range([1352.3, 1021.7]);
  titles(30, 981, "Collinearity", 1007, "High collinearity (VIF) may inflate parameter uncertainty");
  var x0 = x.range()[0], x1 = x.range()[1];
  var zones = [[1, 5, "#e1f1ea"], [5, 10, "#d9e9f5"], [10, 11.45, "#f8dcdd"]];
  g.selectAll(null).data(zones).enter().append("rect")
    .attr("x", x0).attr("width", x1 - x0)
    .attr("y", function (d) { return y(d[1]); }).attr("height", function (d) { return y(d[0]) - y(d[1]); })
    .attr("fill", function (d) { return d[2]; });
  var gl = g.append("g");
  gl.selectAll(null).data([1.414, 2.449, 3.873, 7.071]).enter().append("line")
    .attr("x1", x0).attr("x2", x1).attr("y1", function (d) { return y(d); }).attr("y2", function (d) { return y(d); })
    .attr("stroke", "rgba(150,165,180,0.22)").attr("stroke-width", 1.1);
  gl.selectAll(null).data([1, 2, 3, 5, 10]).enter().append("line")
    .attr("x1", x0).attr("x2", x1).attr("y1", function (d) { return y(d); }).attr("y2", function (d) { return y(d); })
    .attr("stroke", "rgba(150,165,180,0.38)").attr("stroke-width", 1.6);
  gl.selectAll(null).data(vifTerms).enter().append("line")
    .attr("x1", function (d) { return x(d); }).attr("x2", function (d) { return x(d); })
    .attr("y1", y.range()[0]).attr("y2", y.range()[1])
    .attr("stroke", "rgba(150,165,180,0.45)").attr("stroke-width", 1.6);
  g.append("path").attr("d", "M" + x0 + "," + y.range()[1] + "V" + y.range()[0] + "H" + x1)
    .attr("fill", "none").attr("stroke", "#cfcfcf").attr("stroke-width", 1.8);
  var col = function (i) { return vifGroup[i] === "Low" ? green : blue; };
  g.selectAll(null).data(vifTerms).enter().append("line")
    .attr("x1", function (d) { return x(d); }).attr("x2", function (d) { return x(d); })
    .attr("y1", function (d, i) { return y(vifLow[i]); }).attr("y2", function (d, i) { return y(vifHigh[i]); })
    .attr("stroke", function (d, i) { return col(i); }).attr("stroke-width", 3);
  g.selectAll(null).data(vifTerms).enter().append("circle")
    .attr("cx", function (d) { return x(d); }).attr("cy", function (d, i) { return y(vifValue[i]); })
    .attr("r", 6.5).attr("fill", function (d, i) { return col(i); });
  axes(g, x, y, { xTicks: vifTerms, xFmt: function (d) { return d; }, xPad: 18.6, yTicks: [1, 2, 3, 5, 10], yFmt: function (d) { return d; }, yPad: 18.7, xSize: 17, ySize: 16 });
  text(g, 43, 1190, "Variance Inflation Factor (VIF, log-scaled)", { size: 18, fill: titleGray, anchor: "middle", rotate: true });
  // legend
  var lg = g.append("g");
  var keys = [[472, 498, green, vifGroupLabels[0]], [595, 621, blue, vifGroupLabels[1]]];
  keys.forEach(function (k) {
    lg.append("line").attr("x1", k[0]).attr("x2", k[0]).attr("y1", 1400).attr("y2", 1427).attr("stroke", k[2]).attr("stroke-width", 3);
    lg.append("circle").attr("cx", k[0]).attr("cy", 1413).attr("r", 6.5).attr("fill", k[2]);
    text(lg, k[1], 1413, k[3], { size: 16.7, fill: "#333", dy: "0.35em" });
  });
})();

// ---- 6. Posterior predictive check ----
(function () {
  var g = svg.append("g");
  var x = d3.scaleLinear().domain([-6.76, 283.6]).range([119.5, 858.8]);
  var y = d3.scaleLinear().domain([-0.000516, 0.010917]).range([1840.7, 1508.3]);
  titles(119.5, 1457, "Posterior Predictive Check", 1490, "Model-predicted lines should resemble observed data line");
  g.append("rect").attr("x", x.range()[0]).attr("y", y.range()[1])
    .attr("width", x.range()[1] - x.range()[0]).attr("height", y.range()[0] - y.range()[1]).attr("fill", "#ebebeb");
  grid(g, x, y, { xMajor: [0, 100, 200], xMinor: [50, 150, 250], yMajor: [0, 0.0025, 0.005, 0.0075, 0.01],
    yMinor: [0.00125, 0.00375, 0.00625, 0.00875], major: "#ffffff", minor: "#f7f7f7", axisLines: false });
  var line = d3.line().curve(d3.curveMonotoneX).x(function (d, i) { return x(densityX[i]); }).y(function (d) { return y(d); });
  g.append("g").selectAll("path").data(predictedDensity).enter().append("path")
    .attr("d", line).attr("fill", "none").attr("stroke", blue).attr("stroke-opacity", 0.4).attr("stroke-width", 1.6);
  g.append("path").datum(observedDensity).attr("d", line).attr("fill", "none").attr("stroke", green).attr("stroke-width", 3);
  axes(g, x, y, { xTicks: [0, 100, 200], xFmt: fmt("d"), xPad: 6.1, yTicks: [0, 0.0025, 0.005, 0.0075, 0.01], yFmt: fmt(".4f"),
    yPad: 4.5, tick: 4.5, tickColor: "#333", color: "#4d4d4d", size: 16.5 });
  text(g, 489, 1887, "sqrt(GFR.post)", { size: 20.5, fill: "#111", anchor: "middle" });
  text(g, 47, 1675, "Density", { size: 20.5, fill: "#111", anchor: "middle", rotate: true });
  // legend
  g.append("rect").attr("x", 890).attr("y", 1658).attr("width", 32).attr("height", 65).attr("fill", "#ebebeb");
  [[1674, green], [1707, blue]].forEach(function (k, i) {
    g.append("line").attr("x1", 894).attr("x2", 919).attr("y1", k[0]).attr("y2", k[0]).attr("stroke", k[1]).attr("stroke-width", 3);
    text(g, 933.5, k[0], ppcLegend[i], { size: 16.3, fill: "#111", dy: "0.35em" });
  });
})();
</script>
</body>
</html>
